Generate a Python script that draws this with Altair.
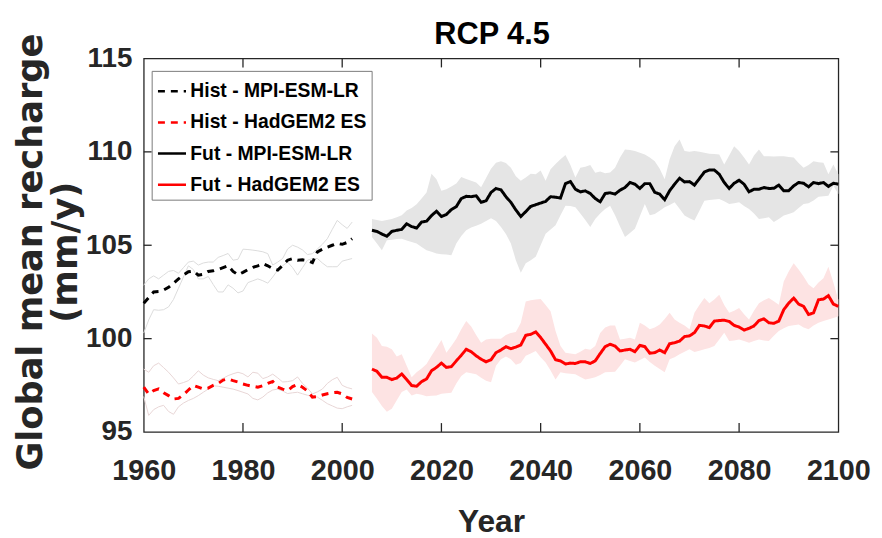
import altair as alt
import pandas as pd

# ---------------- data ----------------
hist_years = list(range(1960, 2003))
fut_years = list(range(2006, 2101))

mpi_hist = [101.90, 102.20, 102.50, 102.52, 102.60, 102.75, 102.97, 103.20, 103.40, 103.58,
            103.62, 103.40, 103.45, 103.60, 103.63, 103.70, 103.80, 103.90, 103.60, 103.42,
            103.55, 103.70, 103.82, 103.90, 104.02, 103.90, 103.75, 103.67, 103.92, 104.20,
            104.28, 104.20, 104.22, 104.18, 104.07, 104.65, 104.78, 104.90, 105.00, 105.10,
            105.05, 105.15, 105.35]
had_hist = [97.40, 97.04, 97.22, 97.31, 97.10, 96.95, 96.77, 96.80, 97.00, 97.25,
            97.50, 97.40, 97.30, 97.35, 97.50, 97.60, 97.78, 97.84, 97.75, 97.68,
            97.57, 97.50, 97.45, 97.40, 97.48, 97.60, 97.70, 97.40, 97.30, 97.22,
            97.43, 97.55, 97.40, 97.20, 96.87, 96.90, 96.98, 97.05, 97.10, 97.13,
            97.04, 96.85, 96.77]

mpi_hist_up = [102.86, 103.20, 103.36, 103.20, 103.40, 103.60, 103.65, 103.50, 103.80, 104.10,
               104.15, 103.94, 104.05, 104.10, 104.10, 104.35, 104.45, 104.56, 104.20, 104.25,
               104.79, 104.77, 104.74, 104.70, 104.65, 104.55, 103.94, 104.10, 104.29, 104.80,
               105.00, 104.90, 104.75, 104.50, 104.55, 104.80, 105.05, 105.35, 105.85, 106.33,
               106.10, 105.90, 106.24]
mpi_hist_lo = [100.30, 101.00, 101.55, 101.52, 101.55, 101.70, 102.10, 102.70, 103.30, 103.90,
               103.70, 103.20, 103.20, 103.33, 102.90, 102.50, 102.50, 102.88, 102.70, 102.45,
               102.55, 103.00, 103.10, 103.20, 103.10, 102.97, 103.30, 103.67, 103.90, 104.10,
               103.80, 103.40, 103.80, 104.20, 104.29, 104.29, 104.05, 103.85, 103.85, 103.85,
               104.15, 104.22, 104.29]
had_hist_up = [98.37, 98.20, 98.55, 98.69, 98.45, 98.20, 97.90, 97.57, 97.65, 97.75,
               98.00, 98.28, 98.05, 97.90, 97.82, 97.75, 97.88, 98.02, 98.12, 98.20,
               98.12, 97.95, 98.20, 98.15, 97.86, 97.95, 98.10, 97.90, 97.68, 97.70,
               97.75, 97.95, 97.60, 97.35, 97.04, 97.15, 97.30, 97.60, 97.80, 97.93,
               97.50, 97.38, 97.31]
had_hist_lo = [96.90, 95.89, 96.20, 96.35, 96.43, 96.10, 95.95, 96.35, 96.55, 96.69,
               96.80, 96.95, 97.13, 97.30, 97.48, 97.45, 97.40, 97.35, 97.30, 97.22,
               97.13, 97.04, 96.80, 96.72, 96.87, 97.10, 97.25, 97.30, 97.20, 97.06,
               97.10, 97.13, 97.05, 96.97, 96.93, 96.87, 96.70, 96.52, 96.40, 96.28,
               96.25, 96.35, 96.43]

mpi_fut = [105.80, 105.74, 105.60, 105.48, 105.74, 105.80, 105.85, 106.15, 106.00, 105.92,
           106.24, 106.29, 106.59, 106.82, 106.54, 106.65, 106.91, 107.07, 107.50, 107.62,
           107.60, 107.65, 107.30, 107.38, 107.83, 108.04, 107.97, 107.60, 107.30, 106.89,
           106.54, 106.80, 107.08, 107.17, 107.26, 107.35, 107.60, 107.57, 107.53, 108.30,
           108.41, 108.00, 107.86, 107.91, 107.77, 107.50, 107.33, 107.77, 107.81, 107.74,
           107.95, 108.09, 108.36, 108.27, 108.04, 108.30, 108.30, 107.83, 107.74, 107.44,
           107.92, 108.27, 108.59, 108.39, 108.41, 108.22, 108.57, 108.92, 109.03, 109.03,
           108.80, 108.36, 108.04, 108.32, 108.48, 108.27, 107.86, 108.00, 108.00, 108.09,
           108.04, 108.05, 108.22, 107.92, 107.92, 108.18, 108.36, 108.32, 108.13, 108.36,
           108.30, 108.36, 108.15, 108.32, 108.27]
mpi_fut_up = [106.41, 106.35, 106.30, 106.35, 106.40, 106.50, 106.60, 106.86, 107.00, 107.20,
              107.50, 107.83, 108.83, 108.54, 107.92, 108.00, 108.15, 108.30, 108.66, 108.55,
              108.45, 108.36, 108.10, 108.60, 109.10, 109.42, 109.50, 109.40, 109.15, 108.70,
              108.45, 108.63, 108.83, 108.80, 109.00, 108.45, 109.07, 109.35, 109.60, 109.83,
              109.30, 108.63, 109.15, 109.20, 109.30, 108.88, 108.95, 108.85, 108.90, 109.15,
              109.70, 110.13, 110.10, 110.04, 109.95, 109.86, 109.70, 109.50, 109.10, 108.54,
              109.60, 110.30, 110.66, 110.04, 110.00, 110.04, 110.00, 109.95, 109.90, 109.88,
              109.86, 109.33, 109.80, 110.30, 110.04, 109.70, 109.33, 109.80, 110.13, 109.77,
              109.77, 109.75, 109.77, 109.77, 109.72, 109.70, 109.40, 109.15, 109.30, 109.50,
              109.45, 109.42, 108.80, 109.33, 108.80]
mpi_fut_lo = [105.44, 105.10, 104.73, 105.27, 105.30, 105.33, 105.35, 105.25, 105.18, 105.10,
              104.90, 104.73, 104.65, 104.56, 104.52, 104.50, 104.47, 105.10, 105.50, 105.80,
              105.95, 106.05, 106.15, 106.30, 106.45, 106.30, 105.98, 105.60, 105.10, 104.20,
              103.53, 104.03, 104.20, 104.38, 105.00, 105.62, 105.85, 106.07, 106.60, 107.12,
              107.10, 107.03, 106.70, 106.35, 105.98, 106.40, 106.70, 106.94, 107.12, 106.60,
              106.00, 105.44, 105.65, 105.88, 106.55, 107.21, 106.60, 106.68, 106.85, 107.03,
              107.15, 107.30, 106.95, 106.59, 106.45, 106.33, 106.85, 107.38, 107.42, 107.45,
              107.47, 107.35, 107.21, 107.25, 107.30, 107.10, 106.94, 106.70, 106.41, 106.45,
              106.50, 106.24, 106.40, 106.59, 106.68, 106.77, 107.00, 107.21, 107.25, 107.40,
              107.60, 107.62, 107.65, 108.18, 107.74]

had_fut = [98.37, 98.25, 97.93, 97.93, 97.81, 97.89, 98.11, 97.81, 97.49, 97.45,
           97.70, 97.84, 98.28, 98.46, 98.69, 98.46, 98.50, 98.81, 99.11, 99.43,
           99.30, 99.08, 98.90, 98.76, 98.87, 99.25, 99.39, 99.57, 99.46, 99.55,
           99.66, 100.18, 100.23, 100.36, 100.06, 99.70, 99.34, 98.87, 98.81, 98.64,
           98.69, 98.67, 98.76, 98.76, 98.67, 98.81, 99.20, 99.57, 99.70, 99.60,
           99.34, 99.39, 99.43, 99.30, 99.64, 99.57, 99.22, 99.25, 99.39, 99.25,
           99.73, 99.78, 99.87, 100.11, 100.15, 100.32, 100.71, 100.68, 100.59, 100.94,
           100.97, 100.99, 100.92, 100.71, 100.62, 100.46, 100.55, 100.68, 100.97, 101.06,
           100.85, 100.82, 100.94, 101.55, 101.90, 102.17, 101.85, 101.73, 101.29, 101.38,
           102.08, 102.12, 102.30, 101.85, 101.73]
had_fut_up = [100.28, 100.05, 99.60, 99.57, 99.43, 99.04, 99.16, 98.55, 97.93, 98.20,
              98.40, 98.64, 99.08, 99.50, 99.93, 99.25, 99.60, 100.00, 100.50, 100.94,
              100.65, 100.20, 99.78, 99.95, 100.00, 100.00, 100.00, 100.20, 100.30, 100.36,
              100.85, 101.99, 102.05, 102.10, 102.12, 101.80, 101.46, 100.41, 99.60, 99.25,
              99.20, 99.16, 99.30, 99.46, 99.40, 99.60, 100.30, 100.60, 100.71, 100.70,
              99.96, 100.00, 100.05, 99.95, 100.85, 100.70, 100.50, 100.60, 100.76, 101.05,
              101.38, 101.03, 100.85, 100.70, 100.50, 101.38, 101.80, 102.17, 101.90, 102.10,
              102.35, 101.80, 101.38, 101.50, 101.64, 101.30, 101.03, 101.50, 101.90, 102.05,
              102.17, 102.00, 101.82, 103.06, 103.60, 104.03, 103.70, 103.33, 102.90, 102.70,
              103.00, 103.24, 103.85, 103.00, 102.08]
had_fut_lo = [97.14, 96.78, 96.40, 96.08, 96.25, 96.70, 97.14, 97.28, 96.96, 97.05,
              97.00, 96.92, 96.94, 96.96, 97.05, 97.08, 97.10, 97.60, 98.00, 98.20,
              98.15, 98.10, 97.90, 97.75, 97.67, 98.55, 98.90, 99.05, 98.90, 98.60,
              98.70, 99.08, 99.20, 99.34, 99.00, 98.72, 98.30, 97.81, 98.20, 98.15,
              98.12, 98.10, 97.95, 97.81, 97.87, 97.93, 98.05, 98.20, 98.22, 98.23,
              98.55, 98.90, 98.80, 98.72, 98.85, 98.99, 98.75, 98.55, 98.37, 98.20,
              98.90, 99.00, 99.16, 99.30, 99.43, 99.29, 99.35, 99.43, 99.50, 99.60,
              99.95, 100.32, 99.87, 99.90, 99.96, 99.87, 99.78, 99.87, 99.96, 99.90,
              99.87, 100.15, 100.41, 100.55, 100.68, 100.72, 100.76, 100.60, 100.50, 100.70,
              100.85, 100.95, 101.03, 101.10, 101.20]

chart_title = ["RCP 4.5"]
series_names = ["Hist - MPI-ESM-LR", "Hist - HadGEM2 ES",
                "Fut - MPI-ESM-LR", "Fut - HadGEM2 ES"]
series_colors = ["#000000", "#ff0000", "#000000", "#ff0000"]
series_dash = [[7, 6], [7, 6], [1, 0], [1, 0]]

x_ticks = [1960, 1980, 2000, 2020, 2040, 2060, 2080, 2100]
y_ticks = [95, 100, 105, 110, 115]
x_inner = [1980, 2000, 2020, 2040, 2060, 2080]
y_inner = [100, 105, 110]

for arr in (mpi_hist, had_hist, mpi_hist_up, mpi_hist_lo, had_hist_up, had_hist_lo):
    assert len(arr) == len(hist_years)
for arr in (mpi_fut, mpi_fut_up, mpi_fut_lo, had_fut, had_fut_up, had_fut_lo):
    assert len(arr) == len(fut_years)

# ---------------- tables ----------------
lines = pd.concat([
    pd.DataFrame({"year": hist_years, "value": mpi_hist, "series": series_names[0]}),
    pd.DataFrame({"year": hist_years, "value": had_hist, "series": series_names[1]}),
    pd.DataFrame({"year": fut_years, "value": mpi_fut, "series": series_names[2]}),
    pd.DataFrame({"year": fut_years, "value": had_fut, "series": series_names[3]}),
], ignore_index=True)

mpi_hist_band = pd.concat([
    pd.DataFrame({"year": hist_years, "value": mpi_hist_up, "k": "up"}),
    pd.DataFrame({"year": hist_years, "value": mpi_hist_lo, "k": "lo"}),
], ignore_index=True)
had_hist_band = pd.concat([
    pd.DataFrame({"year": hist_years, "value": had_hist_up, "k": "up"}),
    pd.DataFrame({"year": hist_years, "value": had_hist_lo, "k": "lo"}),
], ignore_index=True)
mpi_fut_band = pd.DataFrame({"year": fut_years, "up": mpi_fut_up, "lo": mpi_fut_lo})
had_fut_band = pd.DataFrame({"year": fut_years, "up": had_fut_up, "lo": had_fut_lo})
title_df = pd.DataFrame({"t": chart_title})

W, H = 701, 377
FONT = "Liberation Sans"
WIDE = "DejaVu Sans"
AX = "#262626"

xs = alt.Scale(domain=[1960, 2100], nice=False, zero=False)
ys = alt.Scale(domain=[95, 115], nice=False, zero=False)

x_axis = alt.Axis(values=x_ticks, format="d", grid=False, domain=False, ticks=False, tickSize=0,
                  labelFont=FONT, labelFontSize=29, labelFontWeight="bold", labelColor=AX,
                  labelBaseline="alphabetic", labelPadding=48, labelFlush=False,
                  title="Year", titleFont=FONT, titleFontSize=32, titleFontWeight="bold",
                  titleColor=AX, titleBaseline="alphabetic", titleY=100, titleX=W / 2,
                  titleAnchor="middle", titleAlign="center")
y_axis = alt.Axis(values=y_ticks, grid=False, domain=False, ticks=False, tickSize=0,
                  labelFont=FONT, labelFontSize=28, labelFontWeight="bold", labelColor=AX,
                  labelBaseline="middle", labelPadding=12, labelFlush=False,
                  title=["Global mean recharge", "(mm/y)"], titleFont=WIDE, titleFontSize=35.5,
                  titleFontWeight="bold", titleColor=AX, titleAngle=270,
                  titleBaseline="alphabetic", titleAlign="center", titleLineHeight=35,
                  titleX=-103, titleY=195)

base_x = alt.X("year:Q", scale=xs, axis=x_axis)

fut_mpi_area = alt.Chart(mpi_fut_band).mark_area(color="#e5e5e5", opacity=1).encode(
    x=base_x, y=alt.Y("up:Q", scale=ys, axis=y_axis), y2="lo:Q")
fut_had_area = alt.Chart(had_fut_band).mark_area(color="#fde3e3", opacity=1).encode(
    x="year:Q", y="up:Q", y2="lo:Q")

hist_mpi_lines = alt.Chart(mpi_hist_band).mark_line(color="#dcdcdc", strokeWidth=1).encode(
    x="year:Q", y="value:Q", detail="k:N")
hist_had_lines = alt.Chart(had_hist_band).mark_line(color="#e8d6d6", strokeWidth=1).encode(
    x="year:Q", y="value:Q", detail="k:N")

main = alt.Chart(lines).mark_line(strokeWidth=3).encode(
    x="year:Q",
    y="value:Q",
    color=alt.Color("series:N", scale=alt.Scale(domain=series_names, range=series_colors),
                    legend=alt.Legend(title=None, orient="none", legendX=8, legendY=12.5,
                                      symbolType="stroke", symbolSize=800, symbolStrokeWidth=2.5,
                                      labelFont=FONT, labelFontSize=19.5, labelFontWeight="bold",
                                      labelColor="#000000", fillColor="white",
                                      strokeColor="#7a7a7a", padding=5, rowPadding=6.5,
                                      labelOffset=3, labelLimit=400)),
    strokeDash=alt.StrokeDash("series:N",
                              scale=alt.Scale(domain=series_names, range=series_dash)),
)

xt = pd.DataFrame({"year": x_inner})
yt = pd.DataFrame({"v": y_inner})
tick_style = dict(color=AX, strokeWidth=1.3)
ticks_bottom = alt.Chart(xt).mark_rule(**tick_style).encode(
    x="year:Q", y=alt.value(H), y2=alt.value(H - 9))
ticks_top = alt.Chart(xt).mark_rule(**tick_style).encode(
    x="year:Q", y=alt.value(0), y2=alt.value(9))
ticks_left = alt.Chart(yt).mark_rule(**tick_style).encode(
    y=alt.Y("v:Q"), x=alt.value(0), x2=alt.value(8))
ticks_right = alt.Chart(yt).mark_rule(**tick_style).encode(
    y=alt.Y("v:Q"), x=alt.value(W), x2=alt.value(W - 8))

title_mark = alt.Chart(title_df).mark_text(
    font=FONT, fontSize=31, fontWeight="bold", color="#000000",
    align="center", baseline="alphabetic").encode(
    text="t:N", x=alt.value(W / 2 + 1), y=alt.value(-14.5))

chart = alt.layer(
    fut_mpi_area, fut_had_area, hist_mpi_lines, hist_had_lines, main,
    ticks_bottom, ticks_top, ticks_left, ticks_right, title_mark,
).properties(
    width=W, height=H,
    autosize=alt.AutoSizeParams(type="none"),
    padding={"left": 137, "top": 48.5, "right": 36, "bottom": 104},
    background="white",
).configure_view(stroke=AX, strokeWidth=1.3)

chart.save("out.html", embed_options={"renderer": "svg", "actions": False})
